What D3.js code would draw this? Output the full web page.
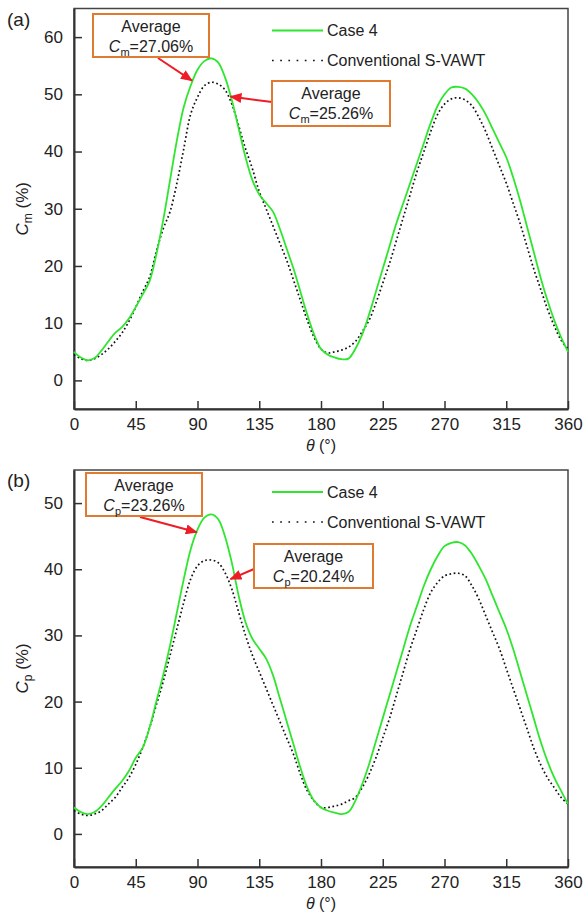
<!DOCTYPE html>
<html>
<head>
<meta charset="utf-8">
<script src="https://cdn.jsdelivr.net/npm/d3@7"></script>
<style>
  body { margin: 0; background: #fff; }
  svg { font-family: "Liberation Sans", Arial, sans-serif; }
  .axis path, .axis line { stroke: #333; }
  .axis text { font-size: 17px; fill: #222; }
</style>
</head>
<body>
<svg id="chart" width="586" height="915"></svg>
<script>
// rotor azimuth (deg)
var theta = [0,5,10,15,20,25,30,35,40,45,50,55,60,65,70,75,80,85,90,95,100,105,110,115,120,
  125,130,135,140,145,150,155,160,165,170,175,180,185,190,195,200,205,210,215,220,225,230,235,
  240,245,250,255,260,265,270,275,280,285,290,295,300,305,310,315,320,325,330,335,340,345,350,355,360];

// (a) moment coefficient Cm (%)
var cmCase4 = [5,4,3.5,3.9,5.2,6.8,8.3,9.3,10.8,12.8,15,17.3,22,28,35,42,47.8,51.5,54.3,55.8,56.3,
  55.6,53,49,44,39,35,32.5,31,29.5,26.5,23,19.5,15.5,11.5,8,5.5,4.5,4,3.7,3.8,5.5,8,11.5,15.5,19.5,
  23.5,27.5,31,34.5,38,41.5,45,48,50,51.2,51.3,51,50,48.5,46.5,44,41.5,39,35.5,31.5,27,22.5,18,14,10.5,7.5,5];
var cmConv = [4.5,3.8,3.5,3.8,4.5,5.5,6.8,8.3,10.3,12.8,15.5,18,22.5,26.5,29.5,34.5,40.5,46.5,49.5,51.5,52.1,
  51.8,50.8,48.3,44.5,40.5,37,33,30,27,24,21,17.5,14,10.5,7.5,5.5,4.8,5,5.3,5.8,6.8,8.5,10.5,13.5,17,
  20.5,24.5,28.5,32.5,36.5,40,43.5,46.5,48.3,49.2,49.4,49,48,46,43.5,40.5,37.5,34.5,31,27.5,23.5,19.5,16,12.5,9.5,7,5.5];

// (b) power coefficient Cp (%)
var cpCase4 = [4,3.3,3,3.3,4.2,5.5,6.8,8,9.5,11.5,13,16,20,24,28.5,33.5,38.5,43,46,47.8,48.3,
  47.6,45,41,36,32,29.5,28,26.5,24,20.5,17,13.5,10,7,5,4,3.5,3.2,3,3.3,5,7.5,10.5,14,17.5,
  21,24.5,28,31.5,34.5,37.5,40,42,43.5,44,44.1,43.6,42.3,40.5,38.5,36,33.5,31,28,24.5,21,17.5,14,11,8.5,6.5,4.5];
var cpConv = [3.5,3,2.8,3,3.5,4.5,5.5,7,8.5,10.5,13,16,19.5,23,27,31,35,38.5,40.5,41.3,41.4,
  41,39.5,37,33.5,30,27,24.5,22,19.5,17,14.5,12,9,6.5,5,4,4,4.2,4.5,5,5.5,7,9,11.5,14.5,
  17.5,21,24.5,28,31,34,36.5,38,39,39.3,39.4,39,37.5,35.5,33,30.5,28,25,22,19,16,13,10.5,8.5,7,5.5,4.5];

var xTicks = [0,45,90,135,180,225,270,315,360];
var cmTicks = [0,10,20,30,40,50,60];
var cpTicks = [0,10,20,30,40,50];
var seriesNames = ["Case 4", "Conventional S-VAWT"];

var GREEN = "#2fe62f", FONT = 16;
var svg = d3.select("#chart");

svg.append("defs").append("marker")
    .attr("id", "arrow")
    .attr("viewBox", "0 0 12 10")
    .attr("refX", 11).attr("refY", 5)
    .attr("markerWidth", 12).attr("markerHeight", 10)
    .attr("markerUnits", "userSpaceOnUse")
    .attr("orient", "auto")
    .append("path")
    .attr("d", "M0,0 L12,5 L0,10 Z")
    .attr("fill", "#ee1c24");

var x = d3.scaleLinear().domain([0, 360]).range([74, 568]);

function drawPanel(opt) {
    var y = d3.scaleLinear().domain(opt.domain).range([opt.bottom, opt.top]);
    var g = svg.append("g");

    // frame
    g.append("rect")
        .attr("x", 74).attr("y", opt.top)
        .attr("width", 568 - 74).attr("height", opt.bottom - opt.top)
        .attr("fill", "none").attr("stroke", "#444").attr("stroke-width", 1.5);

    var xAxis = g.append("g").attr("class", "axis")
        .attr("transform", "translate(0," + opt.bottom + ")")
        .call(d3.axisBottom(x).tickValues(xTicks).tickSizeInner(-8).tickSizeOuter(0).tickPadding(9));
    xAxis.select(".domain").attr("stroke-width", 2);
    xAxis.selectAll(".tick line").attr("stroke-width", 1.5);

    var yAxis = g.append("g").attr("class", "axis")
        .attr("transform", "translate(74,0)")
        .call(d3.axisLeft(y).tickValues(opt.ticks).tickSizeInner(-8).tickSizeOuter(0).tickPadding(11));
    yAxis.select(".domain").attr("stroke-width", 2);
    yAxis.selectAll(".tick line").attr("stroke-width", 1.5);

    var line = d3.line()
        .x(function(d, i) { return x(theta[i]); })
        .y(function(d) { return y(d); })
        .curve(d3.curveCatmullRom);

    g.append("path").datum(opt.conv)
        .attr("d", line).attr("fill", "none")
        .attr("stroke", "#111").attr("stroke-width", 1.7)
        .attr("stroke-dasharray", "1.7,2.6");

    g.append("path").datum(opt.case4)
        .attr("d", line).attr("fill", "none")
        .attr("stroke", GREEN).attr("stroke-width", 1.8);

    // panel letter
    g.append("text").attr("x", 7).attr("y", opt.top + 17)
        .attr("font-size", 19).attr("fill", "#222").text(opt.letter);

    // axis titles
    var xt = g.append("text").attr("x", 321).attr("y", opt.bottom + 42)
        .attr("text-anchor", "middle").attr("font-size", 16).attr("fill", "#222");
    xt.append("tspan").attr("font-style", "italic").text("\u03B8");
    xt.append("tspan").text(" (\u00B0)");

    var yt = g.append("text")
        .attr("transform", "translate(28," + ((opt.top + opt.bottom) / 2) + ") rotate(-90)")
        .attr("text-anchor", "middle").attr("font-size", 17).attr("fill", "#222");
    yt.append("tspan").attr("font-style", "italic").text("C");
    yt.append("tspan").attr("font-size", 12).attr("dy", 4).text(opt.sub);
    yt.append("tspan").attr("dy", -4).text(" (%)");

    // legend
    var ly = opt.top + 22;
    g.append("line").attr("x1", 272).attr("x2", 323).attr("y1", ly).attr("y2", ly)
        .attr("stroke", GREEN).attr("stroke-width", 1.8);
    g.append("text").attr("x", 327).attr("y", ly + 5.5).attr("font-size", FONT).attr("fill", "#222")
        .text(seriesNames[0]);
    g.append("line").attr("x1", 272).attr("x2", 323).attr("y1", ly + 30).attr("y2", ly + 30)
        .attr("stroke", "#111").attr("stroke-width", 1.7).attr("stroke-dasharray", "1.7,6.5");
    g.append("text").attr("x", 327).attr("y", ly + 35.5).attr("font-size", FONT).attr("fill", "#222")
        .text(seriesNames[1]);

    // callouts
    opt.notes.forEach(function(n) {
        g.append("line")
            .attr("x1", n.from[0]).attr("y1", n.from[1])
            .attr("x2", x(n.tip[0])).attr("y2", y(n.tip[1]))
            .attr("stroke", "#ee1c24").attr("stroke-width", 2)
            .attr("marker-end", "url(#arrow)");
        g.append("rect").attr("x", n.box[0]).attr("y", n.box[1])
            .attr("width", n.box[2]).attr("height", n.box[3])
            .attr("fill", "#fff").attr("stroke", "#e07a30").attr("stroke-width", 2);
        var cx = n.box[0] + n.box[2] / 2;
        g.append("text").attr("x", cx).attr("y", n.box[1] + 17.5)
            .attr("text-anchor", "middle").attr("font-size", FONT).attr("fill", "#222")
            .text("Average");
        var t = g.append("text").attr("x", cx).attr("y", n.box[1] + 37.5)
            .attr("text-anchor", "middle").attr("font-size", FONT).attr("fill", "#222");
        t.append("tspan").attr("font-style", "italic").text("C");
        t.append("tspan").attr("font-size", 11).attr("dy", 4).text(opt.sub);
        t.append("tspan").attr("dy", -4).text("=" + n.value + "%");
    });
}

drawPanel({
    letter: "(a)", sub: "m", top: 8.5, bottom: 409, domain: [-5, 65], ticks: cmTicks,
    case4: cmCase4, conv: cmConv,
    notes: [
        {box: [93, 14, 116, 43], from: [158, 58], tip: [86, 52.4], value: "27.06"},
        {box: [272, 81, 118, 45], from: [272, 102], tip: [114, 49.6], value: "25.26"}
    ]
});

drawPanel({
    letter: "(b)", sub: "p", top: 470, bottom: 867, domain: [-5, 55], ticks: cpTicks,
    case4: cpCase4, conv: cpConv,
    notes: [
        {box: [86, 473, 116, 43], from: [140, 517], tip: [89.5, 45.6], value: "23.26"},
        {box: [254, 544, 119, 44], from: [254, 569], tip: [114, 38.5], value: "20.24"}
    ]
});
</script>
</body>
</html>
